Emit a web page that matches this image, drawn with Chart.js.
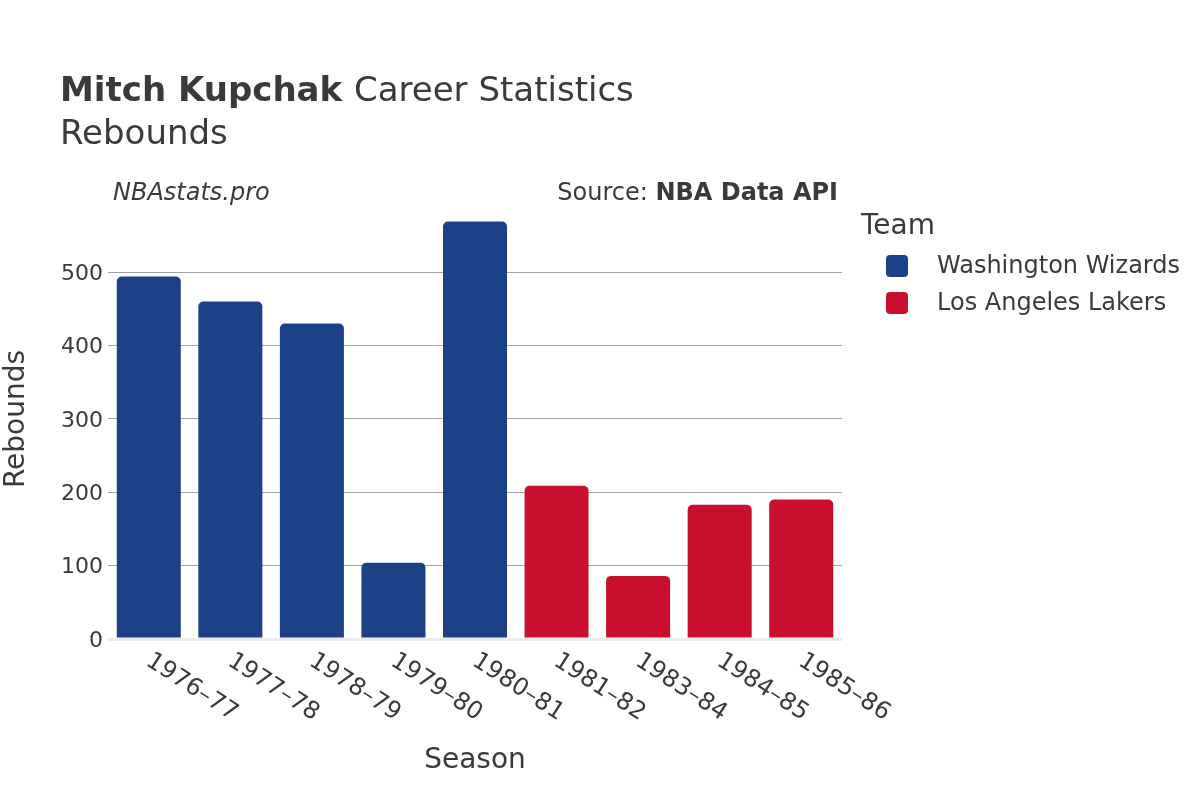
<!DOCTYPE html>
<html>
<head>
<meta charset="utf-8">
<script src="https://cdn.jsdelivr.net/npm/chart.js@4"></script>
<style>
  html, body { margin: 0; padding: 0; background: #fff; }
  #wrap { width: 1200px; height: 800px; }
</style>
</head>
<body>
<div id="wrap"><canvas id="chart1" width="1200" height="800"></canvas></div>
<script>
// data
var seasons = ['1976\u201377', '1977\u201378', '1978\u201379', '1979\u201380', '1980\u201381',
               '1981\u201382', '1983\u201384', '1984\u201385', '1985\u201386']
var wizards = [494, 460, 430, 104, 569, null, null, null, null]
var lakers  = [null, null, null, null, null, 209, 86, 183, 190]
var teams = ['Washington Wizards', 'Los Angeles Lakers']
var teamColors = ['#1c4187', '#c8102e']
var yTicks = [0, 100, 200, 300, 400, 500]

var FONT = "'DejaVu Sans', sans-serif"
var TEXT = '#3a3a3a'

// titles, legend, season labels and axis titles
var decor = {
  id: 'decor',
  afterDraw: function(chart){
    var c = chart.ctx
    var area = chart.chartArea
    c.save()
    c.fillStyle = TEXT
    c.textBaseline = 'alphabetic'
    c.textAlign = 'left'

    c.font = 'bold 34px ' + FONT
    c.fillText('Mitch Kupchak', 60, 101)
    var w = c.measureText('Mitch Kupchak ').width
    c.font = '34px ' + FONT
    c.fillText('Career Statistics', 60 + w, 101)
    c.fillText('Rebounds', 60, 144)

    c.font = 'italic 24px ' + FONT
    c.fillText('NBAstats.pro', 113, 200)

    c.textAlign = 'right'
    c.font = 'bold 24px ' + FONT
    c.fillText('NBA Data API', 838, 200)
    var w2 = c.measureText('NBA Data API').width
    c.font = '24px ' + FONT
    c.fillText('Source: ', 838 - w2, 200)

    // legend
    c.textAlign = 'left'
    c.textBaseline = 'middle'
    c.font = '28px ' + FONT
    c.fillText('Team', 861, 227)
    c.font = '24px ' + FONT
    for (var i = 0; i < teams.length; i++){
      var y = 266 + i * 37
      c.fillStyle = teamColors[i]
      c.beginPath()
      c.roundRect(886, y - 11, 22, 22, 4)
      c.fill()
      c.fillStyle = TEXT
      c.fillText(teams[i], 937, y + 1)
    }

    // season labels, rotated
    var xs = chart.scales.x
    c.font = '24px ' + FONT
    c.textBaseline = 'top'
    for (var j = 0; j < seasons.length; j++){
      var x = xs.getPixelForTick(j)
      c.save()
      c.translate(x + 6, area.bottom + 10)
      c.rotate(33 * Math.PI / 180)
      c.fillText(seasons[j], 0, 0)
      c.restore()
    }

    // axis titles
    c.textAlign = 'center'
    c.textBaseline = 'middle'
    c.font = '28px ' + FONT
    c.fillText('Season', 475, 761)
    c.save()
    c.translate(17, 419)
    c.rotate(-Math.PI / 2)
    c.fillText('Rebounds', 0, 0)
    c.restore()
    c.restore()
  }
}

function makeChart(){
  const ctx = document.getElementById('chart1')
  new Chart(ctx, {
    type: 'bar',
    data: {
      labels: seasons,
      datasets: [{
        label: teams[0],
        data: wizards,
        backgroundColor: teamColors[0],
        borderRadius: { topLeft: 5, topRight: 5 },
        borderSkipped: 'start'
      }, {
        label: teams[1],
        data: lakers,
        backgroundColor: teamColors[1],
        borderRadius: { topLeft: 5, topRight: 5 },
        borderSkipped: 'start'
      }]
    },
    options: {
      responsive: false,
      animation: false,
      devicePixelRatio: 1,
      layout: { padding: { left: 0, right: 358, top: 201, bottom: 161 } },
      plugins: { legend: { display: false }, tooltip: { enabled: false } },
      datasets: { bar: { barPercentage: 0.785, categoryPercentage: 1 } },
      scales: {
        x: {
          stacked: true,
          grid: { display: false },
          border: { display: false },
          ticks: { display: false },
          afterFit: function(s){ s.height = 0 }
        },
        y: {
          stacked: true,
          min: 0,
          max: 597,
          afterBuildTicks: function(s){ s.ticks = yTicks.map(function(v){ return { value: v } }) },
          afterFit: function(s){ s.width = 108 },
          border: { display: false },
          grid: {
            drawTicks: false,
            color: function(c){ return c.tick && c.tick.value === 0 ? '#ebebeb' : '#a3a3a3' },
            lineWidth: function(c){ return c.tick && c.tick.value === 0 ? 3 : 1 }
          },
          ticks: {
            padding: 5,
            labelOffset: 2,
            color: TEXT,
            font: { family: FONT, size: 22, lineHeight: 1.0 }
          }
        }
      }
    },
    plugins: [decor]
  })
}
makeChart()
</script>
</body>
</html>
